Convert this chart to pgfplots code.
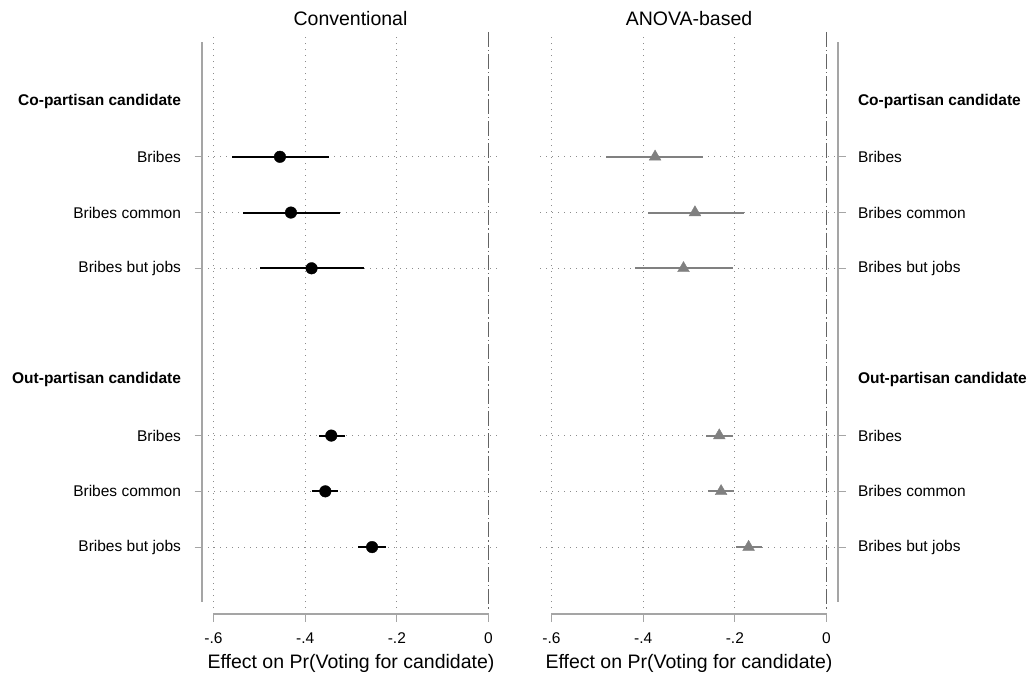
\documentclass[border=0pt]{standalone}
\usepackage{fontspec}
\setmainfont{Liberation Sans}
\usepackage{pgfplots}
\pgfplotsset{compat=1.18}
\usepackage{pgfplotstable}
\definecolor{axgray}{RGB}{165,165,165}
\definecolor{gridgray}{RGB}{140,140,140}
\definecolor{markgray}{RGB}{128,128,128}
\definecolor{zerogray}{RGB}{100,100,100}

\pgfplotstableread{
y est lo hi
-2 -0.455 -0.559 -0.348
-3 -0.431 -0.535 -0.325
-4 -0.386 -0.499 -0.271
-7 -0.343 -0.370 -0.314
-8 -0.356 -0.385 -0.328
-9 -0.254 -0.284 -0.224
}\conv

\pgfplotstableread{
y est lo hi
-2 -0.374 -0.482 -0.270
-3 -0.287 -0.390 -0.179
-4 -0.312 -0.418 -0.205
-7 -0.234 -0.263 -0.204
-8 -0.230 -0.259 -0.201
-9 -0.170 -0.198 -0.141
}\anova

\pgfplotsset{panel/.style={
  scale only axis, width=298pt, height=581pt,
  xmin=-0.625, xmax=0.025, ymin=-10.2, ymax=0.22,
  axis line style={draw=none},
  clip=false,
  xtick={-0.6,-0.4,-0.2}, xticklabels={-.6,-.4,-.2},
  extra x ticks={0}, extra x tick labels={0},
  extra x tick style={grid=none},
  ytick={-2,-3,-4,-7,-8,-9},
  yticklabels={Bribes,Bribes common,Bribes but jobs,Bribes,Bribes common,Bribes but jobs},
  extra y ticks={-1,-6},
  extra y tick labels={\textbf{Co-partisan candidate},\textbf{Out-partisan candidate}},
  extra y tick style={grid=none, major tick style={draw=none}},
  xmajorgrids, ymajorgrids,
  grid style={gridgray, line width=1.1pt, dash pattern=on 1.2pt off 4.8pt},
  major tick length=7.5pt, tick align=outside,
  tick style={axgray, line width=1.2pt},
  xtick pos=left,
  ticklabel style={font=\fontsize{15.5}{18}\selectfont},
  xticklabel style={yshift=-8pt},
}}

\begin{document}
\begin{tikzpicture}
\useasboundingbox (0pt,0pt) rectangle (1032pt,-675pt);

\begin{axis}[panel, at={(202pt,-614pt)}, anchor=south west,
  ytick pos=left, yticklabel style={xshift=-10pt}]
  \draw[zerogray, line width=1.5pt, dash pattern=on 15pt off 3pt on 1.3pt off 3pt]
     (axis cs:0,0.24) -- (axis cs:0,-10.13);
  \draw[axgray, line width=1.5pt] (axis cs:-0.625,0.058) -- (axis cs:-0.625,-9.99);
  \draw[axgray, line width=1.5pt] (axis cs:-0.6,-10.2) -- (axis cs:0,-10.2);
  \addplot[only marks, mark=*, mark size=5.8pt, black,
    error bars/.cd, x dir=both, x explicit, error mark=none,
    error bar style={line width=2pt, black}]
    table[x=est, y=y, x error plus expr=\thisrow{hi}-\thisrow{est},
          x error minus expr=\thisrow{est}-\thisrow{lo}] {\conv};
\end{axis}

\begin{axis}[panel, at={(540pt,-614pt)}, anchor=south west,
  ytick pos=right, yticklabel pos=right, yticklabel style={xshift=9pt}]
  \draw[zerogray, line width=1.5pt, dash pattern=on 15pt off 3pt on 1.3pt off 3pt]
     (axis cs:0,0.24) -- (axis cs:0,-10.13);
  \draw[axgray, line width=1.5pt] (axis cs:0.025,0.058) -- (axis cs:0.025,-9.99);
  \draw[axgray, line width=1.5pt] (axis cs:-0.6,-10.2) -- (axis cs:0,-10.2);
  \addplot[only marks, mark=triangle*, mark size=6.8pt, markgray,
    error bars/.cd, x dir=both, x explicit, error mark=none,
    error bar style={line width=2pt, markgray}]
    table[x=est, y=y, x error plus expr=\thisrow{hi}-\thisrow{est},
          x error minus expr=\thisrow{est}-\thisrow{lo}] {\anova};
\end{axis}

\node[anchor=base, font=\fontsize{19.5}{22}\selectfont] at (350.5pt,-25pt) {Conventional};
\node[anchor=base, font=\fontsize{19.5}{22}\selectfont] at (689pt,-25pt) {ANOVA-based};
\node[anchor=base, font=\fontsize{19.5}{22}\selectfont] at (351pt,-668pt) {Effect on Pr(Voting for candidate)};
\node[anchor=base, font=\fontsize{19.5}{22}\selectfont] at (689pt,-668pt) {Effect on Pr(Voting for candidate)};
\end{tikzpicture}
\end{document}
